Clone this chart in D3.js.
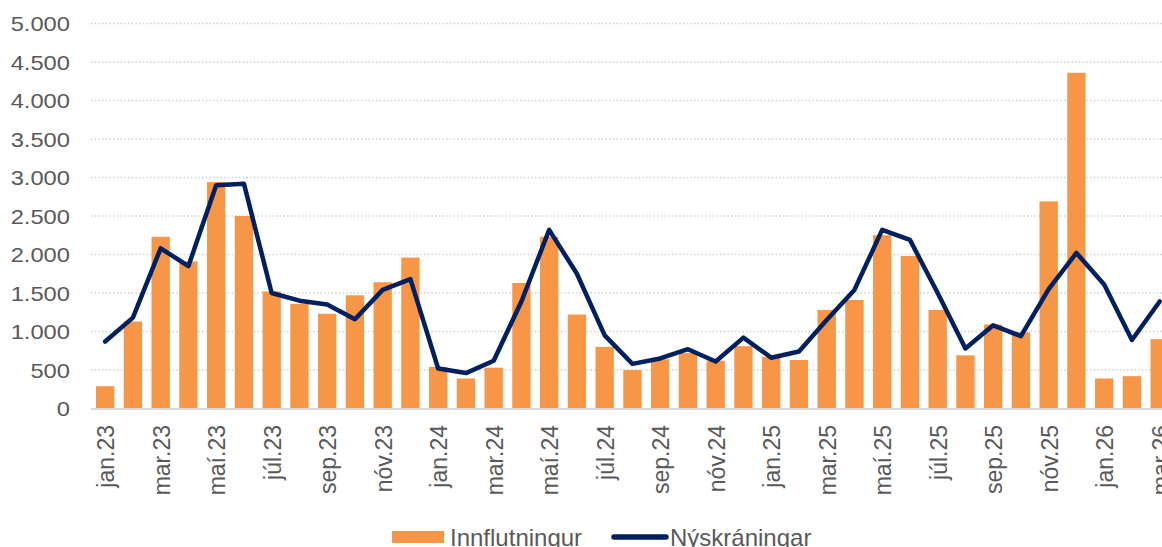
<!doctype html>
<html>
<head>
  <meta charset="utf-8">
  <title>Innflutningur og nýskráningar</title>
  <style>
    body { margin: 0; background: #fff; overflow: hidden; }
    svg { display: block; font-family: "Liberation Sans", Arial, sans-serif; }
  </style>
</head>
<body>
  <svg></svg>
  <script src="https://cdnjs.cloudflare.com/ajax/libs/d3/7.8.5/d3.min.js"></script>
  <script>
  var months = ["jan.23","feb.23","mar.23","apr.23","maí.23","jún.23","júl.23","ágú.23","sep.23","okt.23","nóv.23","des.23",
                "jan.24","feb.24","mar.24","apr.24","maí.24","jún.24","júl.24","ágú.24","sep.24","okt.24","nóv.24","des.24",
                "jan.25","feb.25","mar.25","apr.25","maí.25","jún.25","júl.25","ágú.25","sep.25","okt.25","nóv.25","des.25",
                "jan.26","feb.26","mar.26"];

  var innflutningur = [290,1130,2230,1910,2940,2500,1520,1360,1230,1470,1640,1960,
                       540,390,530,1630,2230,1220,800,500,640,720,620,810,
                       670,630,1280,1410,2250,1980,1280,690,1090,990,2690,4360,
                       390,420,900];

  var nyskraningar = [870,1180,2080,1850,2900,2920,1500,1400,1350,1160,1540,1680,
                      520,460,620,1390,2320,1750,950,580,650,770,610,920,
                      660,740,1150,1540,2320,2190,1500,780,1080,940,1550,2020,
                      1610,890,1390];

  var yTicks = [0,500,1000,1500,2000,2500,3000,3500,4000,4500,5000];

  var width = 1162, height = 547;
  var textColor = "#595959";

  var svg = d3.select("svg")
    .attr("width", width)
    .attr("height", height);

  var x = d3.scaleBand()
    .domain(months)
    .range([91.3, 91.3 + 39 * 27.75])
    .paddingInner(0.34)
    .paddingOuter(0.17);

  var y = d3.scaleLinear()
    .domain([0, 5000])
    .range([408.5, 23.5]);

  var fmt = function(v) { return d3.format(",")(v).replace(/,/g, "."); };

  // gridlines
  svg.append("g")
    .selectAll("line")
    .data(yTicks.filter(function(d) { return d > 0; }))
    .enter().append("line")
    .attr("x1", 91)
    .attr("x2", width)
    .attr("y1", function(d) { return y(d); })
    .attr("y2", function(d) { return y(d); })
    .style("stroke", "#d0d0d0")
    .style("stroke-width", 1.5)
    .style("stroke-dasharray", "1.5,2.2");

  // y labels (text in the picture is a bit wide, so stretch it)
  svg.append("g")
    .selectAll("text")
    .data(yTicks)
    .enter().append("text")
    .attr("transform", function(d) { return "translate(70," + y(d) + ") scale(1.13,1)"; })
    .attr("dy", "0.36em")
    .style("text-anchor", "end")
    .style("font-size", "21px")
    .style("fill", textColor)
    .text(fmt);

  // bars
  svg.append("g")
    .selectAll("rect")
    .data(innflutningur)
    .enter().append("rect")
    .attr("x", function(d, i) { return x(months[i]); })
    .attr("width", x.bandwidth())
    .attr("y", function(d) { return y(d); })
    .attr("height", function(d) { return y(0) - y(d); })
    .style("fill", "#F79646");

  // baseline
  svg.append("line")
    .attr("x1", 91)
    .attr("x2", width)
    .attr("y1", y(0) + 0.5)
    .attr("y2", y(0) + 0.5)
    .style("stroke", "#d9d9d9")
    .style("stroke-width", 2);

  // line
  var line = d3.line()
    .x(function(d, i) { return x(months[i]) + x.bandwidth() / 2; })
    .y(function(d) { return y(d); });

  svg.append("path")
    .datum(nyskraningar)
    .attr("d", line)
    .style("fill", "none")
    .style("stroke", "#002060")
    .style("stroke-width", 4.5)
    .style("stroke-linejoin", "round")
    .style("stroke-linecap", "round");

  // x labels, every other month
  var xAxis = d3.axisBottom(x)
    .tickValues(months.filter(function(d, i) { return i % 2 === 0; }))
    .tickSize(0)
    .tickPadding(0);

  svg.append("g")
    .attr("transform", "translate(1," + y(0) + ")")
    .call(xAxis)
    .call(function(g) { g.select(".domain").remove(); })
    .selectAll("text")
    .attr("transform", "rotate(-90)")
    .attr("x", -16.5)
    .attr("y", 0)
    .attr("dy", "0.35em")
    .style("text-anchor", "end")
    .style("font-size", "23px")
    .style("fill", textColor)
    .style("font-family", "'Liberation Sans', Arial, sans-serif");

  // legend
  var legend = svg.append("g");

  legend.append("rect")
    .attr("x", 392)
    .attr("y", 531)
    .attr("width", 52)
    .attr("height", 12)
    .style("fill", "#F79646");

  legend.append("text")
    .attr("x", 450)
    .attr("y", 546)
    .text("Innflutningur")
    .style("font-size", "24px")
    .style("fill", textColor);

  legend.append("line")
    .attr("x1", 614)
    .attr("x2", 666)
    .attr("y1", 537)
    .attr("y2", 537)
    .style("stroke", "#002060")
    .style("stroke-width", 5.5)
    .style("stroke-linecap", "round");

  legend.append("text")
    .attr("x", 670)
    .attr("y", 546)
    .text("Nýskráningar")
    .style("font-size", "24px")
    .style("fill", textColor);
  </script>
</body>
</html>
